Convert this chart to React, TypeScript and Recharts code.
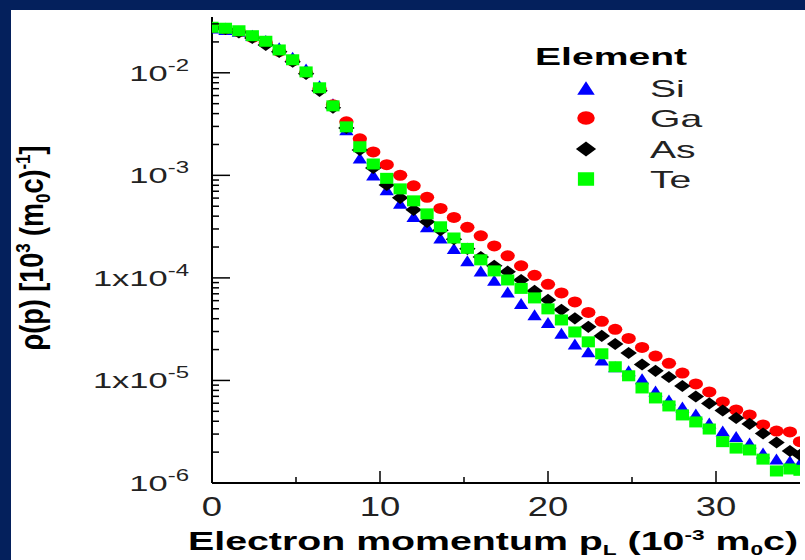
import { ScatterChart, Scatter, XAxis, YAxis, Legend } from "recharts";

const NAVY = "#04205c";
const FONT = "'Liberation Sans', Arial, sans-serif";

// electron momentum p_L (10^-3 m0c)
const MOMENTUM = [
  0, 0.8, 1.6, 2.4, 3.2, 4.0, 4.8, 5.6, 6.4, 7.2, 8.0, 8.8, 9.6, 10.4, 11.2,
  12.0, 12.8, 13.6, 14.4, 15.2, 16.0, 16.8, 17.6, 18.4, 19.2, 20.0, 20.8, 21.6,
  22.4, 23.2, 24.0, 24.8, 25.6, 26.4, 27.2, 28.0, 28.8, 29.6, 30.4, 31.2, 32.0,
  32.8, 33.6, 34.4, 35.0,
];

// Compton profile rho(p) per element
const SI = [
  0.0273, 0.0265, 0.0254, 0.0232, 0.0207, 0.0175, 0.0142, 0.0109, 0.00746,
  0.00499, 0.00278, 0.00148, 0.00101, 7.22e-4, 5.33e-4, 3.98e-4, 3.15e-4,
  2.45e-4, 1.94e-4, 1.47e-4, 1.17e-4, 9.46e-5, 7.3e-5, 5.64e-5, 4.36e-5,
  3.68e-5, 2.88e-5, 2.27e-5, 1.9e-5, 1.58e-5, 1.36e-5, 1.24e-5, 1.04e-5,
  7.9e-6, 6.46e-6, 5.51e-6, 4.71e-6, 3.85e-6, 3.21e-6, 2.84e-6, 2.45e-6,
  1.96e-6, 1.71e-6, 1.64e-6, 1.57e-6,
];
const GA = [
  0.0278, 0.0268, 0.0251, 0.0222, 0.0196, 0.0162, 0.0131, 0.01, 0.00698,
  0.00488, 0.00333, 0.00227, 0.00169, 0.00127, 0.001, 7.9e-4, 6.1e-4, 4.76e-4,
  3.89e-4, 3.11e-4, 2.57e-4, 2.05e-4, 1.64e-4, 1.31e-4, 1.06e-4, 8.65e-5,
  7.14e-5, 5.83e-5, 4.61e-5, 3.77e-5, 3.15e-5, 2.57e-5, 2.1e-5, 1.73e-5,
  1.47e-5, 1.18e-5, 9.24e-6, 7.72e-6, 6.17e-6, 5.15e-6, 4.61e-6, 3.68e-6,
  3.21e-6, 3.15e-6, 2.53e-6,
];
const AS = [
  0.0278, 0.0268, 0.0248, 0.0219, 0.0187, 0.016, 0.0128, 0.00977, 0.00667,
  0.00456, 0.0029, 0.00177, 0.00118, 8.07e-4, 6.03e-4, 4.61e-4, 3.52e-4,
  2.91e-4, 2.38e-4, 1.92e-4, 1.6e-4, 1.31e-4, 1.15e-4, 9.55e-5, 7.47e-5,
  6.1e-5, 4.88e-5, 4.03e-5, 3.33e-5, 2.72e-5, 2.27e-5, 1.85e-5, 1.43e-5,
  1.24e-5, 1.08e-5, 8.83e-6, 6.98e-6, 5.97e-6, 5.09e-6, 4.31e-6, 3.77e-6,
  3.04e-6, 2.48e-6, 2.05e-6, 1.88e-6,
];
const TE = [
  0.0278, 0.0272, 0.0257, 0.023, 0.0203, 0.0167, 0.0134, 0.0102, 0.00714,
  0.00476, 0.00297, 0.0019, 0.00129, 9.35e-4, 7.38e-4, 5.64e-4, 4.21e-4,
  3.15e-4, 2.45e-4, 1.94e-4, 1.5e-4, 1.17e-4, 9.55e-5, 7.9e-5, 6.38e-5,
  4.99e-5, 3.89e-5, 2.97e-5, 2.38e-5, 1.82e-5, 1.36e-5, 1.11e-5, 8.45e-6,
  6.75e-6, 5.64e-6, 4.61e-6, 3.94e-6, 3.36e-6, 2.53e-6, 2.19e-6, 2.1e-6,
  1.71e-6, 1.31e-6, 1.37e-6, 1.33e-6,
];

const X_TICKS = [0, 5, 10, 15, 20, 25, 30, 35];
const X_LABELED = [0, 10, 20, 30];

const Y_TICKS = [
  1e-6, 2e-6, 3e-6, 4e-6, 5e-6, 6e-6, 7e-6, 8e-6, 9e-6,
  1e-5, 2e-5, 3e-5, 4e-5, 5e-5, 6e-5, 7e-5, 8e-5, 9e-5,
  1e-4, 2e-4, 3e-4, 4e-4, 5e-4, 6e-4, 7e-4, 8e-4, 9e-4,
  1e-3, 2e-3, 3e-3, 4e-3, 5e-3, 6e-3, 7e-3, 8e-3, 9e-3,
  1e-2, 2e-2, 3e-2,
];
const Y_MAJOR = [1e-6, 1e-5, 1e-4, 1e-3, 1e-2];
const Y_LABEL_BASE = ["10", "1x10", "1x10", "10", "10"];
const Y_LABEL_EXP = ["-6", "-5", "-4", "-3", "-2"];

const SERIES = [
  { name: "Si", values: SI, color: "#0000ff", marker: "triangle" },
  { name: "Ga", values: GA, color: "#ff0000", marker: "circle" },
  { name: "As", values: AS, color: "#000000", marker: "diamond" },
  { name: "Te", values: TE, color: "#00ff00", marker: "square" },
];

const toPoints = (values: number[]) =>
  MOMENTUM.map((x, i) => ({ x, y: values[i] }));

function Marker({ kind, cx, cy, color, k = 1.1 }: any) {
  if (cx == null || cy == null) return null;
  if (kind === "triangle") {
    const w = 6.5 * k, h = 5 * k;
    return <polygon points={`${cx},${cy - h} ${cx + w},${cy + h} ${cx - w},${cy + h}`} fill={color} />;
  }
  if (kind === "circle") {
    return <ellipse cx={cx} cy={cy} rx={6.5 * k} ry={5 * k} fill={color} />;
  }
  if (kind === "diamond") {
    const w = 7.5 * k, h = 5.5 * k;
    return <polygon points={`${cx},${cy - h} ${cx + w},${cy} ${cx},${cy + h} ${cx - w},${cy}`} fill={color} />;
  }
  return <rect x={cx - 6 * k} y={cy - 5 * k} width={12 * k} height={10 * k} fill={color} />;
}

function LeftTick({ x, y, payload }: any) {
  const i = Y_MAJOR.indexOf(payload.value);
  const major = i >= 0;
  return (
    <g>
      <line x1={x} x2={x + (major ? 18 : 7)} y1={y} y2={y} stroke="#000" strokeWidth={1.5} />
      {major && (
        <g transform={`translate(${x - 23},${y + 8}) scale(1.5,1)`}>
          <text textAnchor="end" fontSize={23} fill="#222" fontFamily={FONT}>
            {Y_LABEL_BASE[i]}
            <tspan dy={-10} fontSize={16}>{Y_LABEL_EXP[i]}</tspan>
          </text>
        </g>
      )}
    </g>
  );
}

function RightTick({ x, y, payload }: any) {
  const major = Y_MAJOR.includes(payload.value);
  return <line x1={x} x2={x - (major ? 17 : 9)} y1={y} y2={y} stroke="#000" strokeWidth={1.5} />;
}

function BottomTick({ x, y, payload }: any) {
  const v = payload.value;
  const major = v % 10 === 0;
  return (
    <g>
      {v > 0 && v < 35 && (
        <line x1={x} x2={x} y1={y} y2={y - (major ? 12 : 6)} stroke="#000" strokeWidth={1.5} />
      )}
      {X_LABELED.includes(v) && (
        <g transform={`translate(${x},${y + 33}) scale(1.35,1)`}>
          <text textAnchor="middle" fontSize={27} fill="#222" fontFamily={FONT}>{v}</text>
        </g>
      )}
    </g>
  );
}

function TopTick({ x, y, payload }: any) {
  const v = payload.value;
  if (v <= 0 || v >= 35) return null;
  return <line x1={x} x2={x} y1={y} y2={y + (v % 10 === 0 ? 12 : 6)} stroke="#000" strokeWidth={1.5} />;
}

function XTitle({ viewBox }: any) {
  const { x, y } = viewBox;
  return (
    <text x={x - 24} y={y + 67} fontSize={26} fontWeight="bold" fontFamily={FONT}
      fill="#000" textLength={610} lengthAdjust="spacingAndGlyphs">
      Electron momentum p
      <tspan dy={5} fontSize={15}>L</tspan>
      <tspan dy={-5}>{" (10"}</tspan>
      <tspan dy={-10} fontSize={15}>-3</tspan>
      <tspan dy={10}>{" m"}</tspan>
      <tspan dy={5} fontSize={15}>0</tspan>
      <tspan dy={-5}>c)</tspan>
    </text>
  );
}

function YTitle({ viewBox }: any) {
  const { x, y, height } = viewBox;
  return (
    <text transform={`translate(${x - 19},${y + height / 2 - 2}) rotate(-90) scale(1,1.35)`}
      textAnchor="middle" fontSize={24} fontWeight="bold" fontFamily={FONT} fill="#000"
      textLength={205} lengthAdjust="spacingAndGlyphs">
      {"ρ(p) [10"}
      <tspan dy={-10} fontSize={15}>3</tspan>
      <tspan dy={10}>{" (m"}</tspan>
      <tspan dy={5} fontSize={15}>0</tspan>
      <tspan dy={-5}>c)</tspan>
      <tspan dy={-10} fontSize={15}>-1</tspan>
      <tspan dy={10}>]</tspan>
    </text>
  );
}

function LegendBox({ payload }: any) {
  const rows = SERIES.filter((s) => (payload || []).some((p: any) => p.value === s.name));
  const rowY = [58, 88, 119, 149];
  return (
    <svg width={200} height={170} style={{ display: "block" }}>
      <g transform="translate(15,35) scale(1.7,1)">
        <text fontSize={23} fontWeight="bold" fontFamily={FONT} fill="#000">Element</text>
      </g>
      {rows.map((s, i) => (
        <g key={s.name}>
          <Marker kind={s.marker} cx={66} cy={rowY[i]} color={s.color} k={1.35} />
          <g transform={`translate(130,${rowY[i] + 8.5}) scale(1.7,1)`}>
            <text fontSize={23} fontFamily={FONT} fill="#222">{s.name}</text>
          </g>
        </g>
      ))}
    </svg>
  );
}

export default function App() {
  return (
    <div style={{ position: "absolute", left: 0, top: 0, width: 805, height: 560, background: NAVY }}>
      <div style={{ position: "absolute", left: 11, top: 10, right: 0, bottom: 0, background: "#fff" }} />
      <ScatterChart width={805} height={560}
        margin={{ top: 17, right: 5, bottom: 17, left: 62 }}
        style={{ position: "absolute", left: 0, top: 0 }}>
        <XAxis xAxisId="bottom" dataKey="x" type="number" domain={[0, 35]} ticks={X_TICKS}
          interval={0} allowDataOverflow height={60} tickSize={0} tickMargin={0} tickLine={false}
          axisLine={{ stroke: "#000", strokeWidth: 2 }} tick={<BottomTick />} label={<XTitle />} />
        <XAxis xAxisId="top" orientation="top" type="number" domain={[0, 35]} ticks={X_TICKS}
          interval={0} allowDataOverflow height={0} tickSize={0} tickMargin={0} tickLine={false}
          axisLine={{ stroke: "#000", strokeWidth: 2 }} tick={<TopTick />} />
        <YAxis yAxisId="left" dataKey="y" type="number" scale="log" domain={[1e-6, 0.035]}
          ticks={Y_TICKS} interval={0} allowDataOverflow width={150} tickSize={0} tickMargin={0}
          tickLine={false} axisLine={{ stroke: "#000", strokeWidth: 2 }} tick={<LeftTick />}
          label={<YTitle />} />
        <YAxis yAxisId="right" orientation="right" type="number" scale="log" domain={[1e-6, 0.035]}
          ticks={Y_TICKS} interval={0} allowDataOverflow width={0} tickSize={0} tickMargin={0}
          tickLine={false} axisLine={{ stroke: "#000", strokeWidth: 2 }} tick={<RightTick />} />
        {SERIES.map((s) => (
          <Scatter key={s.name} name={s.name} data={toPoints(s.values)} xAxisId="bottom"
            yAxisId="left" fill={s.color} isAnimationActive={false}
            shape={(p: any) => <Marker kind={s.marker} cx={p.cx} cy={p.cy} color={s.color} />} />
        ))}
        <Legend layout="vertical" align="center" verticalAlign="middle" content={<LegendBox />}
          wrapperStyle={{ position: "absolute", left: 520, top: 30, width: 200, height: 170 }} />
      </ScatterChart>
    </div>
  );
}
